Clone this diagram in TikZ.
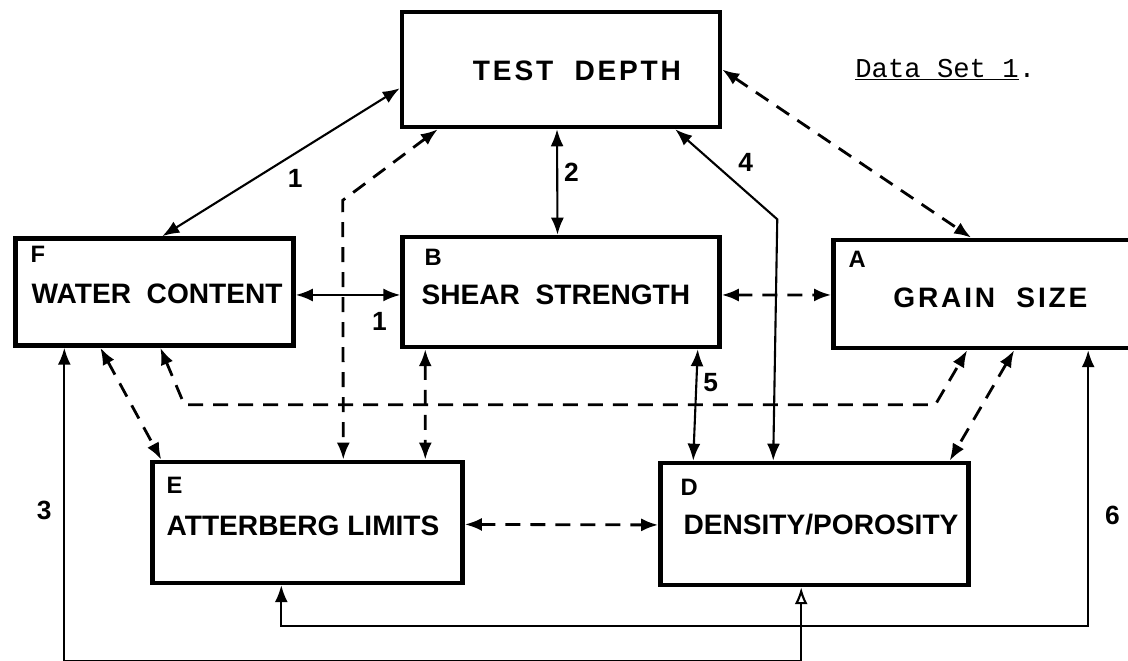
\documentclass[tikz,border=0pt]{standalone}
\usepackage{fontspec}
\setsansfont{Liberation Sans}
\newfontfamily\typewriter{Liberation Mono}
\usetikzlibrary{arrows.meta,calc,positioning}

\begin{document}
\begin{tikzpicture}[x=0.02cm,y=-0.02cm,node distance=4.45cm,
    box/.style={rectangle,draw,line width=2.6pt},
    boxtext/.style={inner sep=0pt,font=\sffamily\bfseries\fontsize{16}{18}\selectfont},
    tag/.style={anchor=north west,inner sep=0pt,font=\sffamily\bfseries\fontsize{13.5}{15}\selectfont},
    num/.style={font=\sffamily\bfseries\fontsize{15}{16}\selectfont},
    link/.style={<->,line width=1.2pt},
    dlink/.style={link,line width=1.6pt,dash pattern=on 0.3cm off 0.2cm},
    >={Latex[length=3.4mm,width=2.6mm]}]
      \useasboundingbox (0,0) rectangle (1128,660);
      % boxes
      \node (depth) [box,minimum width=6.36cm,minimum height=2.3cm] at (561,69.5) {};
      \node (B) [box,minimum width=6.34cm,minimum height=2.2cm,below of=depth] {};
      \node (F) [box,minimum width=5.56cm,minimum height=2.14cm,left of=B,xshift=-3.68cm] {};
      \node (A) [box,minimum width=6.04cm,minimum height=2.16cm,right of=B,xshift=4.02cm,yshift=-0.04cm] {};
      \node (E) [box,minimum width=6.2cm,minimum height=2.42cm,below of=B,xshift=-5.07cm,yshift=-0.16cm] {};
      \node (D) [box,minimum width=6.16cm,minimum height=2.44cm,below of=B,xshift=5.07cm,yshift=-0.19cm] {};
      % box texts
      \node (depthtext) [boxtext] at ($(depth.center)+(16,1)$) {\addfontfeature{LetterSpace=10}TEST~~DEPTH};
      \node (Ftag) [tag] at ($(F.north west)+(17,10)$) {F};
      \node (Ftext) [boxtext,anchor=west] at ($(F.west)+(18,2)$) {WATER~~CONTENT};
      \node (Btag) [tag] at ($(B.north west)+(24,14)$) {B};
      \node (Btext) [boxtext,anchor=west] at ($(B.west)+(21,3)$) {SHEAR~~STRENGTH};
      \node (Atag) [tag] at ($(A.north west)+(17,13)$) {A};
      \node (Atext) [boxtext] at ($(A.center)+(6,4)$) {\addfontfeature{LetterSpace=10}GRAIN~~SIZE};
      \node (Etag) [tag] at ($(E.north west)+(16,17)$) {E};
      \node (Etext) [boxtext,anchor=west] at ($(E.west)+(16,3)$) {ATTERBERG LIMITS};
      \node (Dtag) [tag] at ($(D.north west)+(22,18)$) {D};
      \node (Dtext) [boxtext,anchor=west] at ($(D.west)+(25,1)$) {DENSITY/POROSITY};
      \node (title) [anchor=base west,inner sep=0pt,font=\typewriter\fontsize{15.5}{17}\selectfont] at (855,77) {\underline{Data Set 1}.};
      % solid links
      \draw [link] ($(depth.south west)+(0,-41)$) -- ($(F.north west)+(149,0)$) node [num,below right,pos=0.5] {1};
      \draw [link] ($(F.east)+(0,3)$) -- ($(B.west)+(0,3)$) node [num,below=0.2cm,pos=0.8] {1};
      \draw [link] ($(depth.south)+(-4,0)$) -- ($(B.north)+(-3.5,0)$) node [num,right,pos=0.41] {2};
      \draw [link] ($(depth.south east)+(-47,0)$) -- node [num,above right,pos=0.55] {4} ++(102,90) -- ($(D.north west)+(115,0)$);
      \draw [link] ($(B.south east)+(-24,0)$) -- ($(D.north west)+(35,0)$) node [num,right,pos=0.3] {5};
      \draw [{Latex[length=3.4mm,width=2.6mm]}-{Latex[open,length=3.4mm,width=2.6mm]},line width=1.2pt] ($(F.south west)+(51,0)$) -- node [num,left=0.12cm,pos=0.52] {3} ++(0,313) -| ($(D.south west)+(143,0)$);
      \draw [link] ($(E.south west)+(131,0)$) -- ++(0,41) -| ($(A.south west)+(257,0)$) node [num,right=0.2cm,pos=0.7] {6};
      % dashed links
      \draw [dlink] (depth.east) -- ($(A.north west)+(140,0)$);
      \draw [dlink] ($(B.east)+(0,3)$) -- ($(A.west)+(0,1)$);
      \draw [dlink] ($(depth.south west)+(38,0)$) -- ++(-95,71) -- ($(E.north west)+(193,0)$);
      \draw [dlink] ($(B.south west)+(25,0)$) -- ($(E.north west)+(275,0)$);
      \draw [dlink] ($(F.south west)+(87,0)$) -- ($(E.north west)+(11,0)$);
      \draw [dlink] ($(F.south west)+(147,0)$) -- ++(24,57) -- ++(751,0) -- ($(A.south west)+(136,0)$);
      \draw [dlink] ($(A.south west)+(183,0)$) -- ($(D.north east)+(-21,0)$);
      \draw [dlink] ($(E.east)+(0,2)$) -- ($(D.west)+(0,1)$);
  \end{tikzpicture}
\end{document}
